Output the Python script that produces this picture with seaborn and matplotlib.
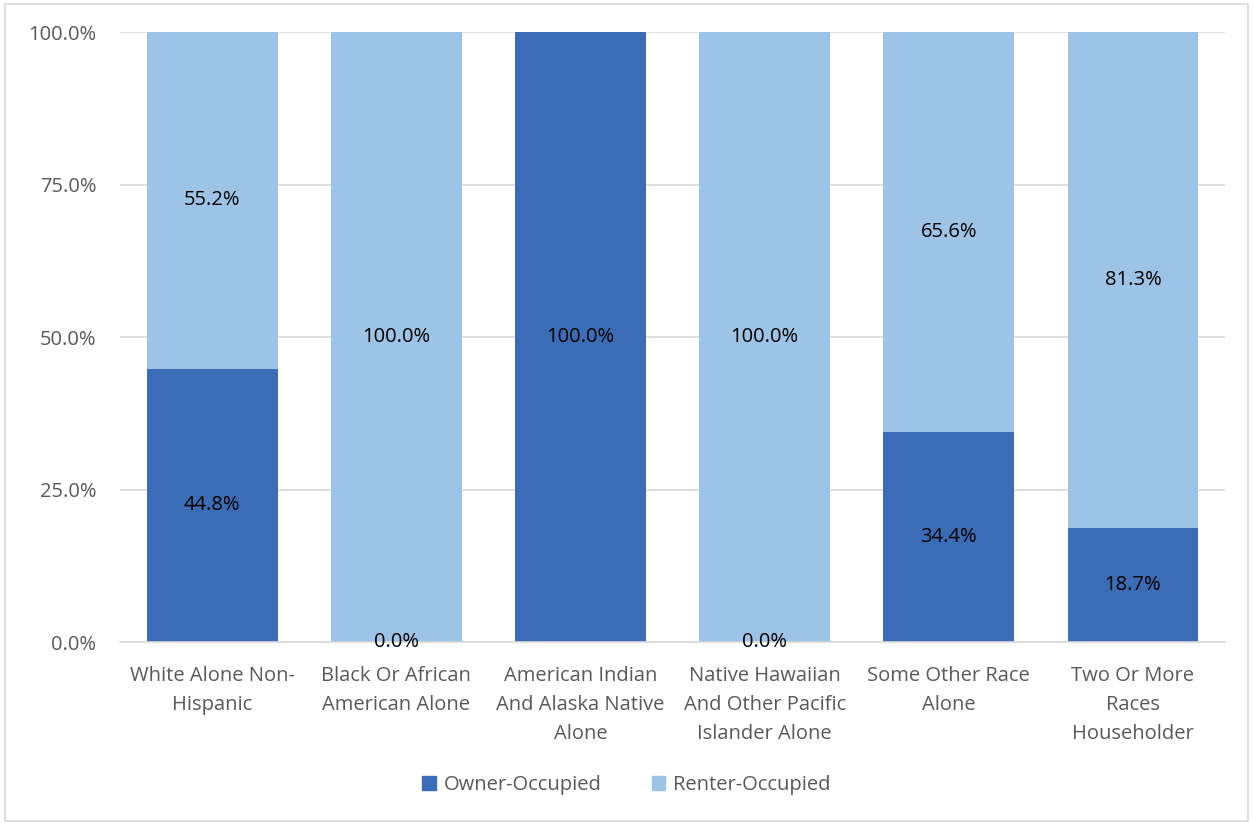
import pandas as pd
import matplotlib
matplotlib.use("Agg")
import matplotlib.pyplot as plt
import seaborn as sns
from matplotlib.patches import Patch, Rectangle

# Chart data (share of householders, percent)
categories = [
    "White Alone Non-\nHispanic",
    "Black Or African\nAmerican Alone",
    "American Indian\nAnd Alaska Native\nAlone",
    "Native Hawaiian\nAnd Other Pacific\nIslander Alone",
    "Some Other Race\nAlone",
    "Two Or More\nRaces\nHouseholder",
]
owner = [44.8, 0.0, 100.0, 0.0, 34.4, 18.7]
renter = [55.2, 100.0, 0.0, 100.0, 65.6, 81.3]
y_ticks = [0, 25, 50, 75, 100]

owner_color = "#3A6DB5"
renter_color = "#9DC3E6"

df = pd.DataFrame({"Category": categories, "Owner": owner, "Renter": renter})
df["Total"] = df["Owner"] + df["Renter"]

sns.set_style("white")
plt.rcParams["font.family"] = ["Open Sans", "DejaVu Sans"]
fs = 14.5

fig = plt.figure(figsize=(12.53, 8.23), dpi=100)
ax = fig.add_axes([0.0958, 0.2199, 0.8819, 0.7412])

# stacked bars: full height in renter colour, owner drawn over it
sns.barplot(data=df, x="Category", y="Total", color=renter_color,
            width=0.71, saturation=1, linewidth=0, ax=ax, zorder=2)
sns.barplot(data=df, x="Category", y="Owner", color=owner_color,
            width=0.71, saturation=1, linewidth=0, ax=ax, zorder=3)

# data labels
for i, row in df.iterrows():
    ax.text(i, row["Owner"] / 2, f"{row['Owner']:.1f}%", ha="center",
            va="center", fontsize=fs, color="#000000", zorder=5)
    if row["Renter"] > 0:
        ax.text(i, row["Owner"] + row["Renter"] / 2, f"{row['Renter']:.1f}%",
                ha="center", va="center", fontsize=fs, color="#000000", zorder=5)

ax.set_ylim(0, 100)
ax.set_xlim(-0.5, len(categories) - 0.5)
ax.set_yticks(y_ticks)
ax.set_yticklabels([f"{t:.1f}%" for t in y_ticks])
ax.grid(axis="y", color="#D9D9D9", linewidth=1.2, zorder=0)
ax.set_axisbelow(True)
ax.set_xlabel("")
ax.set_ylabel("")
ax.tick_params(axis="both", length=0, labelsize=fs, labelcolor="#595959")
ax.tick_params(axis="x", pad=17)
ax.tick_params(axis="y", pad=17)
for lbl in ax.get_xticklabels():
    lbl.set_linespacing(1.6)
for s in ["top", "right", "left"]:
    ax.spines[s].set_visible(False)
ax.spines["bottom"].set_color("#D9D9D9")
ax.spines["bottom"].set_linewidth(1.2)
ax.spines["bottom"].set_zorder(4)

handles = [Patch(color=owner_color, label="Owner-Occupied"),
           Patch(color=renter_color, label="Renter-Occupied")]
fig.legend(handles=handles, loc="center", bbox_to_anchor=(0.5, 0.046), ncol=2,
           frameon=False, fontsize=fs, labelcolor="#595959",
           handlelength=0.65, handleheight=0.65, handletextpad=0.4,
           columnspacing=2.5)

# light chart border
fig.patches.append(Rectangle((0.004, 0.003), 0.992, 0.992, transform=fig.transFigure,
                             fill=False, edgecolor="#D9D9D9", linewidth=1.2))

fig.savefig("out.png", dpi=100)
